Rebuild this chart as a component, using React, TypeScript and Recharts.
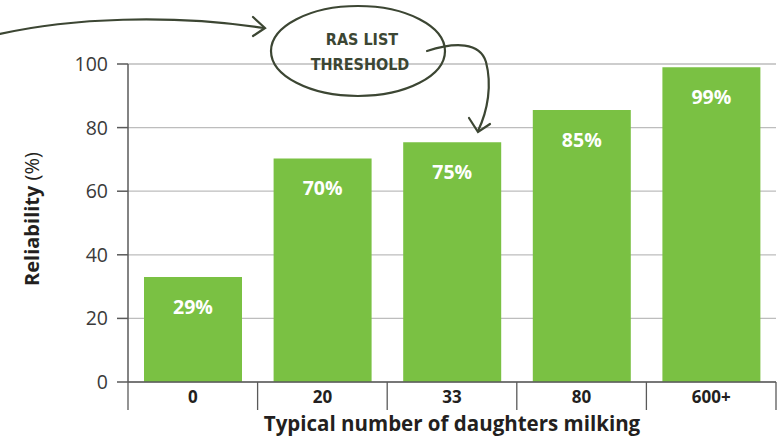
import {
  BarChart,
  Bar,
  XAxis,
  YAxis,
  CartesianGrid,
  LabelList,
  Label,
} from "recharts";

const categories = ["0", "20", "33", "80", "600+"];
const reliability = [33, 70.3, 75.4, 85.5, 99];
const valueLabels = ["29%", "70%", "75%", "85%", "99%"];
const yTicks = [0, 20, 40, 60, 80, 100];

const data = categories.map((name, i) => ({
  name,
  value: reliability[i],
  label: valueLabels[i],
}));

const W = 782;
const H = 439;
const PLOT_W = 648;
const FONT = "'Open Sans', 'Noto Sans', sans-serif";
const TEXT = "#231f20";
const AXIS = "#5a5a5a";
const INK = "#3c4633";

const XTick = (props: any) => {
  const { x, y, payload, index } = props;
  const half = PLOT_W / categories.length / 2;
  const last = index === categories.length - 1;
  return (
    <g>
      <line x1={x - half} x2={x - half} y1={y} y2={y + 28} stroke={AXIS} strokeWidth={1.3} />
      {last && (
        <line x1={x + half} x2={x + half} y1={y} y2={y + 28} stroke={AXIS} strokeWidth={1.3} />
      )}
      <text
        x={x}
        y={y + 21}
        textAnchor="middle"
        fontFamily={FONT}
        fontWeight={700}
        fontSize={17}
        fill={TEXT}
      >
        {payload.value}
      </text>
    </g>
  );
};

const ValueLabel = (props: any) => {
  const { x, y, width, value } = props;
  return (
    <text
      x={x + width / 2}
      y={y + 37}
      textAnchor="middle"
      fontFamily={FONT}
      fontWeight={700}
      fontSize={19.5}
      fill="#ffffff"
    >
      {value}
    </text>
  );
};

// hand-drawn style note above the chart
const Annotation = () => (
  <svg
    width={W}
    height={H}
    style={{ position: "absolute", left: 0, top: 0, pointerEvents: "none" }}
  >
    <g fill="none" stroke={INK} strokeWidth={2.2} strokeLinecap="round">
      <path d="M0,34 C70,18 170,14 264,28" />
      <path d="M253,17 L265,28 L253,36" />
      <ellipse cx={358} cy={51} rx={87} ry={45} />
      <path d="M427,51 C455,42 480,42 486,62 C492,85 488,110 478,131" />
      <path d="M469,118 L478,132 L490,124" />
    </g>
    <g
      fill={INK}
      fontFamily="'DejaVu Sans Condensed', 'Liberation Sans Narrow', sans-serif"
      fontSize={16}
      fontWeight={700}
      textAnchor="middle"
    >
      <text x={362} y={45}>RAS LIST</text>
      <text x={360} y={70}>THRESHOLD</text>
    </g>
  </svg>
);

export default function App() {
  return (
    <div style={{ position: "absolute", left: 0, top: 0, width: W, height: H, background: "#fff" }}>
      <BarChart
        width={W}
        height={H}
        data={data}
        margin={{ top: 64, right: 6, left: 0, bottom: 0 }}
        barCategoryGap={16}
      >
        <CartesianGrid vertical={false} stroke="#bdbdbd" strokeWidth={1.3} />
        <XAxis
          dataKey="name"
          height={57}
          axisLine={{ stroke: AXIS, strokeWidth: 1.5 }}
          tickLine={false}
          tickSize={0}
          tickMargin={0}
          tick={<XTick />}
          interval={0}
        >
          <Label
            content={(p: any) => {
              const vb = p.viewBox;
              return (
                <text
                  x={vb.x + vb.width / 2}
                  y={431}
                  textAnchor="middle"
                  fontFamily={FONT}
                  fontWeight={700}
                  fontSize={20.5}
                  fill={TEXT}
                >
                  Typical number of daughters milking
                </text>
              );
            }}
          />
        </XAxis>
        <YAxis
          width={128}
          domain={[0, 100]}
          ticks={yTicks}
          interval={0}
          axisLine={{ stroke: AXIS, strokeWidth: 1.5 }}
          tickLine={{ stroke: AXIS, strokeWidth: 1.5 }}
          tickSize={11}
          tickMargin={9}
          tick={{ fontFamily: FONT, fontSize: 19.5, fontWeight: 400, fill: "#3a3a3a" }}
        >
          <Label
            content={(p: any) => {
              const vb = p.viewBox;
              const cy = vb.y + vb.height / 2 - 4;
              return (
                <text
                  transform={`translate(39, ${cy}) rotate(-90)`}
                  textAnchor="middle"
                  fontFamily={FONT}
                  fontSize={20}
                  fill={TEXT}
                >
                  <tspan fontWeight={700}>Reliability</tspan>
                  <tspan fontWeight={400}> (%)</tspan>
                </text>
              );
            }}
          />
        </YAxis>
        <Bar dataKey="value" fill="#7ac143" isAnimationActive={false}>
          <LabelList dataKey="label" content={<ValueLabel />} />
        </Bar>
      </BarChart>
      <Annotation />
    </div>
  );
}
